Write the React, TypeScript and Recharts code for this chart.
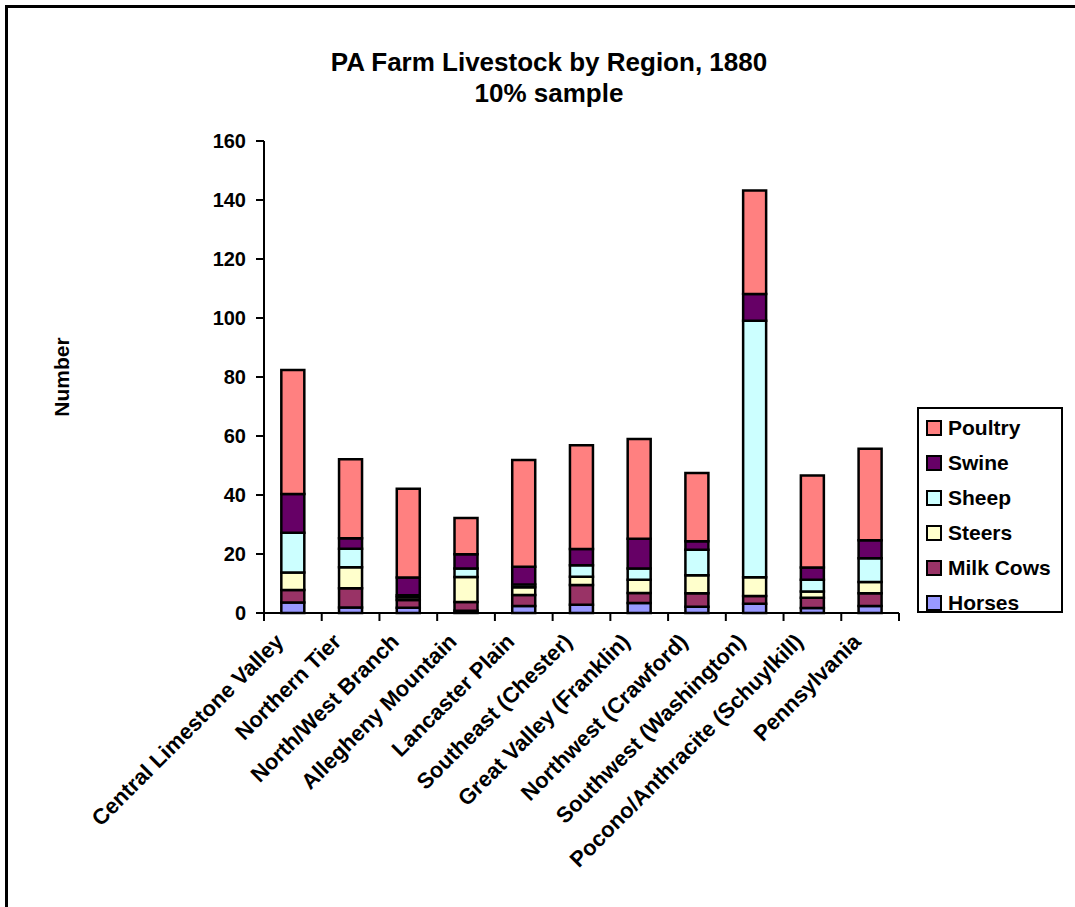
import { BarChart, Bar, XAxis, YAxis } from 'recharts'

const regions = [
  'Central Limestone Valley',
  'Northern Tier',
  'North/West Branch',
  'Allegheny Mountain',
  'Lancaster Plain',
  'Southeast (Chester)',
  'Great Valley (Franklin)',
  'Northwest (Crawford)',
  'Southwest (Washington)',
  'Pocono/Anthracite (Schuylkill)',
  'Pennsylvania',
]

const horses = [3.6, 1.9, 1.8, 0.8, 2.4, 2.8, 3.4, 2.1, 3.1, 1.7, 2.4]
const milkCows = [4.2, 6.5, 2.6, 2.9, 3.7, 6.7, 3.4, 4.6, 2.7, 3.5, 4.3]
const steers = [5.9, 7.1, 0.9, 8.5, 2.6, 2.8, 4.5, 6.1, 6.3, 2.1, 3.8]
const sheep = [13.5, 6.3, 0.7, 2.9, 1.0, 3.9, 3.8, 8.6, 87.0, 4.0, 8.1]
const swine = [13.1, 3.5, 6.0, 4.8, 6.0, 5.5, 10.1, 2.9, 9.0, 4.1, 6.1]
const poultry = [42.1, 26.8, 30.1, 12.3, 36.2, 35.2, 33.8, 23.2, 35.1, 31.2, 31.0]

const yTicks = [0, 20, 40, 60, 80, 100, 120, 140, 160]

// stacking order bottom -> top
const series = [
  { key: 'horses', name: 'Horses', values: horses, color: '#9999FF' },
  { key: 'milkCows', name: 'Milk Cows', values: milkCows, color: '#993366' },
  { key: 'steers', name: 'Steers', values: steers, color: '#FFFFCC' },
  { key: 'sheep', name: 'Sheep', values: sheep, color: '#CCFFFF' },
  { key: 'swine', name: 'Swine', values: swine, color: '#660066' },
  { key: 'poultry', name: 'Poultry', values: poultry, color: '#FF8080' },
]

const data = regions.map((region, i) => {
  const row: Record<string, string | number> = { region }
  series.forEach((s) => {
    row[s.key] = s.values[i]
  })
  return row
})

const FONT = 'Arial, "Liberation Sans", sans-serif'

function RegionTick(props: any) {
  const { x, y, payload, index, visibleTicksCount } = props
  const half = payload?.offset ?? 29
  const last = index === (visibleTicksCount ?? regions.length) - 1
  const ax = x - 8
  const ay = y + 30
  return (
    <g>
      <line x1={x - half} y1={y} x2={x - half} y2={y + 8} stroke="#000" strokeWidth={2} />
      {last && <line x1={x + half} y1={y} x2={x + half} y2={y + 8} stroke="#000" strokeWidth={2} />}
      <text
        x={ax}
        y={ay}
        textAnchor="end"
        transform={`rotate(-45, ${ax}, ${ay})`}
        fontSize={22}
        fontWeight="bold"
        fill="#000"
      >
        {payload.value}
      </text>
    </g>
  )
}

function LegendBox() {
  return (
    <div
      style={{
        position: 'absolute',
        left: 917,
        top: 407,
        border: '2px solid #000',
        background: '#fff',
        width: 142,
        height: 201,
        paddingTop: 1,
        boxSizing: 'content-box',
      }}
    >
      {[...series].reverse().map((s) => (
        <div key={s.key} style={{ height: 35, display: 'flex', alignItems: 'center' }}>
          <span
            style={{
              display: 'inline-block',
              width: 12,
              height: 12,
              border: '2px solid #000',
              background: s.color,
              marginLeft: 7,
              marginRight: 6,
            }}
          />
          <span style={{ fontSize: 21, fontWeight: 'bold', color: '#000' }}>{s.name}</span>
        </div>
      ))}
    </div>
  )
}

export default function App() {
  return (
    <div
      style={{
        position: 'fixed',
        left: 0,
        top: 0,
        width: 1075,
        height: 907,
        overflow: 'hidden',
        background: '#fff',
        fontFamily: FONT,
      }}
    >
      <div
        style={{
          position: 'absolute',
          left: 5,
          top: 5,
          width: 1200,
          height: 1200,
          borderTop: '3px solid #000',
          borderLeft: '3px solid #000',
        }}
      />
      <div
        style={{
          position: 'absolute',
          left: 249,
          top: 47,
          width: 600,
          textAlign: 'center',
          fontSize: 26,
          lineHeight: '31px',
          fontWeight: 'bold',
          color: '#000',
        }}
      >
        PA Farm Livestock by Region, 1880
        <br />
        10% sample
      </div>
      <div
        style={{
          position: 'absolute',
          left: 62,
          top: 377,
          transform: 'translate(-50%, -50%) rotate(-90deg)',
          fontSize: 21,
          fontWeight: 'bold',
          whiteSpace: 'nowrap',
          color: '#000',
        }}
      >
        Number
      </div>
      <div style={{ position: 'absolute', left: 0, top: 0 }}>
        <BarChart
          width={1075}
          height={907}
          data={data}
          margin={{ top: 141, right: 176, bottom: 44, left: 184 }}
          barCategoryGap="30%"
          style={{ fontFamily: FONT }}
        >
          <XAxis
            dataKey="region"
            interval={0}
            height={250}
            tickLine={false}
            tickSize={0}
            tickMargin={0}
            axisLine={{ stroke: '#000', strokeWidth: 2 }}
            tick={<RegionTick />}
          />
          <YAxis
            domain={[0, 160]}
            ticks={yTicks}
            interval={0}
            width={80}
            tickSize={8}
            tickMargin={10}
            axisLine={{ stroke: '#000', strokeWidth: 2 }}
            tickLine={{ stroke: '#000', strokeWidth: 2 }}
            tick={{ fill: '#000', fontSize: 20, fontWeight: 'bold' }}
          />
          {series.map((s) => (
            <Bar
              key={s.key}
              dataKey={s.key}
              name={s.name}
              stackId="a"
              fill={s.color}
              stroke="#000"
              strokeWidth={2.5}
              isAnimationActive={false}
            />
          ))}
        </BarChart>
      </div>
      <LegendBox />
    </div>
  )
}
